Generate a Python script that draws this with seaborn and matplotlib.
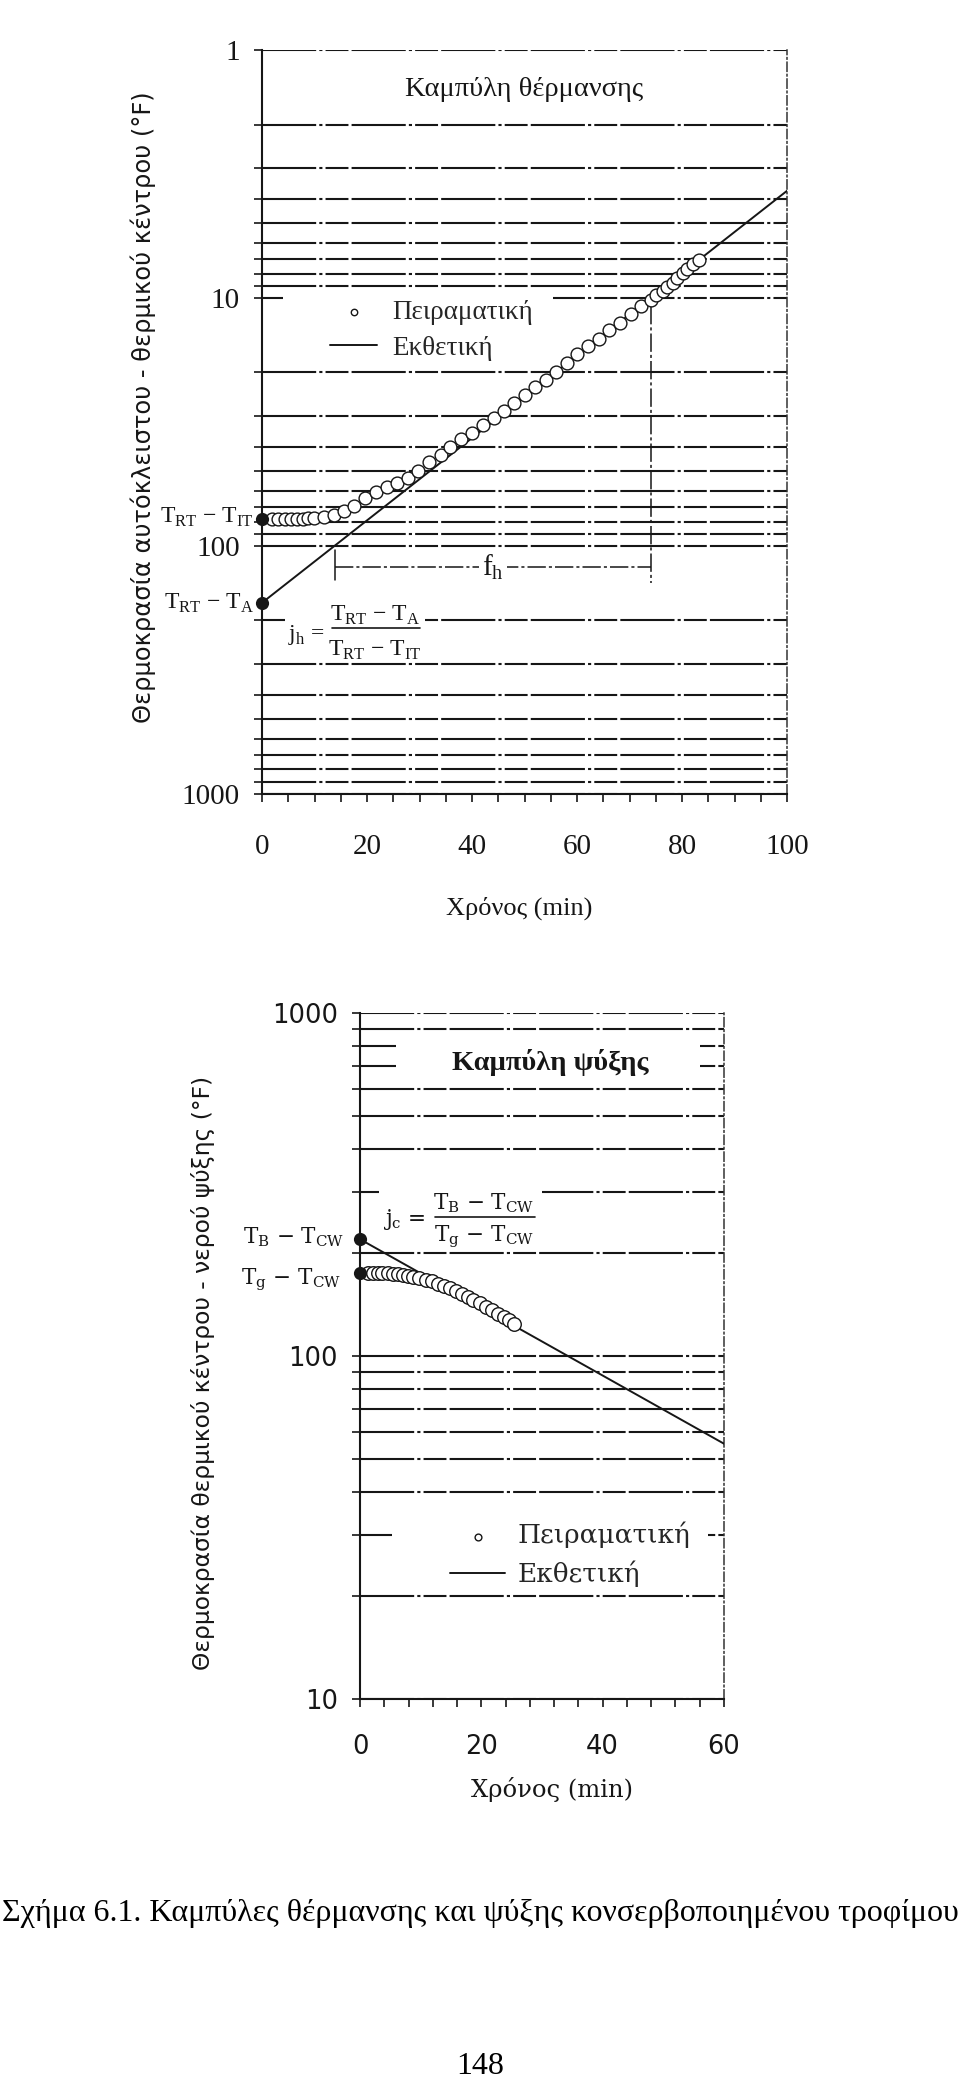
import numpy as np
import pandas as pd
import seaborn as sns
import matplotlib
matplotlib.use("Agg")
import matplotlib.pyplot as plt
from matplotlib.lines import Line2D
from matplotlib.patches import Rectangle
from matplotlib.ticker import FixedLocator, FixedFormatter, MultipleLocator, LogLocator, NullFormatter

# ---------------- data ----------------
heat_time = [1.9, 3.1, 4.4, 5.5, 6.6, 7.8, 8.8, 9.9, 11.8, 13.7, 15.7, 17.6, 19.6, 21.7,
             23.8, 25.7, 27.8, 29.8, 31.9, 34.0, 35.9, 37.9, 40.0, 42.0, 44.1, 46.1, 48.0,
             50.1, 52.0, 54.0, 56.0, 58.0, 60.0, 62.1, 64.1, 66.1, 68.1, 70.2, 72.1, 74.0,
             75.1, 76.3, 77.2, 78.2, 79.1, 80.1, 81.0, 82.0, 83.3]
heat_temp = [78, 78, 78, 78, 78, 77.8, 77.6, 77.3, 76.9, 75.2, 72.2, 69.0, 64.5, 61.0,
             58.2, 55.8, 53.3, 49.8, 45.9, 43.0, 40.0, 37.2, 35.0, 32.7, 30.5, 28.6, 26.6,
             24.6, 23.0, 21.5, 19.9, 18.4, 16.9, 15.7, 14.6, 13.5, 12.6, 11.6, 10.8, 10.2,
             9.75, 9.37, 9.02, 8.69, 8.35, 7.96, 7.67, 7.32, 7.03]
heat_line_time = [0, 100]
heat_line_temp = [170, 3.7]
heat_start_time = [0, 0]
heat_start_temp = [78, 170]          # T_RT - T_IT , T_RT - T_A

cool_time = [1.3, 2.1, 2.9, 3.7, 4.6, 5.4, 6.2, 7.1, 7.9, 8.8, 9.8, 10.8, 11.8, 12.8,
             13.8, 14.8, 15.8, 16.8, 17.8, 18.7, 19.7, 20.7, 21.7, 22.7, 23.7, 24.6, 25.4]
cool_temp = [174, 174, 174, 174, 174, 173.5, 173, 172.5, 171.5, 170.5, 169, 167, 165,
             162.5, 160, 157.5, 154.5, 151.5, 148.5, 145.5, 142.5, 139, 136, 133, 130,
             127, 124]
cool_line_time = [0, 60]
cool_line_temp = [219, 55.5]
cool_start_time = [0, 0]
cool_start_temp = [174.5, 219]       # Tg - Tcw , TB - Tcw

heat_xticks = [0, 20, 40, 60, 80, 100]
cool_xticks = [0, 20, 40, 60]
heat_yticks = [1, 10, 100, 1000]
cool_yticks = [10, 100, 1000]
legend_labels = ["Πειραματική", "Εκθετική"]

heat_df = pd.DataFrame({"t": heat_time, "T": heat_temp})
cool_df = pd.DataFrame({"t": cool_time, "T": cool_temp})

# ---------------- style ----------------
sns.set_theme(style="white")
plt.rcParams["font.family"] = ["Liberation Serif", "DejaVu Serif"]
plt.rcParams["mathtext.fontset"] = "custom"
plt.rcParams["mathtext.rm"] = "Liberation Serif"

W, H = 960, 2082
fig = plt.figure(figsize=(W / 100, H / 100), dpi=100)
fig.patch.set_facecolor("white")
fx = lambda x: x / W
fy = lambda y: 1 - y / H

INK = "#161616"
GRID_LS = (0, (26, 1.5, 1.5, 1.5, 11, 1.5))

ax1 = fig.add_axes([fx(262), fy(793.5), fx(787) - fx(262), fy(50) - fy(793.5)])
ax2 = fig.add_axes([fx(360), fy(1699), fx(724) - fx(360), fy(1013) - fy(1699)])


def white_box(ax, x0, y0, x1, y1):
    ax.add_patch(Rectangle((fx(x0), fy(y1)), fx(x1) - fx(x0), fy(y0) - fy(y1),
                           transform=fig.transFigure, facecolor="white",
                           edgecolor="none", zorder=1))


def plot_panel(ax, df, lt, lv, st, sv, size):
    sns.lineplot(x=lt, y=lv, ax=ax, color=INK, linewidth=1.4, label=legend_labels[1],
                 zorder=3)
    sns.scatterplot(data=df, x="t", y="T", ax=ax, marker="o", s=size, color="white",
                    edgecolor=INK, linewidth=1.0, label=legend_labels[0], zorder=4)
    sns.scatterplot(x=st, y=sv, ax=ax, color=INK, s=90, edgecolor=INK, linewidth=0,
                    clip_on=False, zorder=6, legend=False)


def setup(ax, xmax, ylim, yticks, xticks, minor_x, tick_font, tick_size, xpad, ypad):
    ax.set_yscale("log")
    ax.set_xlim(0, xmax)
    ax.set_ylim(*ylim)
    ax.yaxis.set_major_locator(FixedLocator(yticks))
    ax.yaxis.set_major_formatter(FixedFormatter([str(v) for v in yticks]))
    ax.yaxis.set_minor_locator(LogLocator(base=10, subs=np.arange(2, 10), numticks=12))
    ax.yaxis.set_minor_formatter(NullFormatter())
    ax.xaxis.set_major_locator(FixedLocator(xticks))
    ax.xaxis.set_major_formatter(FixedFormatter([str(v) for v in xticks]))
    ax.xaxis.set_minor_locator(MultipleLocator(minor_x))
    ax.set_axisbelow(True)
    ax.grid(False)
    ax.grid(True, which="both", axis="y", color=INK, linewidth=1.5, linestyle=GRID_LS)
    ax.tick_params(axis="both", which="both", direction="out", color=INK, width=1.2,
                   labelcolor=INK)
    ax.tick_params(axis="x", which="both", bottom=True, length=6, pad=xpad,
                   labelsize=tick_size)
    ax.tick_params(axis="y", which="both", left=True, length=6, pad=ypad,
                   labelsize=tick_size)
    for lab in ax.get_xticklabels() + ax.get_yticklabels():
        lab.set_family(tick_font)
    ax.spines["top"].set_visible(False)
    for s in ("left", "bottom"):
        ax.spines[s].set_color(INK)
        ax.spines[s].set_linewidth(1.5)
    ax.spines["right"].set_color("#333333")
    ax.spines["right"].set_linewidth(1.1)
    ax.spines["right"].set_linestyle((0, (6, 2, 1, 2)))
    ax.set_facecolor("white")


# ================= heating curve =================
plot_panel(ax1, heat_df, heat_line_time, heat_line_temp, heat_start_time, heat_start_temp, 85)
setup(ax1, 100, (1000, 1), heat_yticks, heat_xticks, 5, "Liberation Serif", 21, 23, 10)

ax1.set_xlabel("Χρόνος (min)", fontsize=19, family="Liberation Serif", color=INK)
ax1.xaxis.set_label_coords(fx(519), fy(908), transform=fig.transFigure)
ax1.xaxis.label.set_verticalalignment("center")
ax1.set_ylabel("Θερμοκρασία αυτόκλειστου - θερμικού κέντρου (°F)", fontsize=17.4,
               family="DejaVu Sans", color=INK)
ax1.yaxis.set_label_coords(fx(143), fy(407), transform=fig.transFigure)
ax1.yaxis.label.set_verticalalignment("center")

ax1.text(fx(524), fy(90), "Καμπύλη θέρμανσης", transform=fig.transFigure, ha="center",
         va="center", fontsize=20.5, color=INK)

# legend (white area hides grid line)
white_box(ax1, 283, 291, 553, 366)
h, l = ax1.get_legend_handles_labels()
hd = dict(zip(l, h))
ax1.legend([hd[legend_labels[0]], hd[legend_labels[1]]], legend_labels, loc="upper left",
           bbox_to_anchor=(fx(330), fy(300)), bbox_transform=fig.transFigure,
           frameon=False, borderpad=0, borderaxespad=0, fontsize=19.5, handlelength=1.75,
           handletextpad=0.55, labelspacing=0.4, markerscale=0.5)

# f_h bracket derived from the exponential line
lg = np.log10(heat_line_temp)[::-1]
lt = np.array(heat_line_time)[::-1]
fh_start = float(np.interp(2.0, lg, lt))
fh_end = float(np.interp(1.0, lg, lt))
BR_LS = (0, (12, 2, 2, 2))
ax1.plot([fh_start, fh_end], [122, 122], color=INK, lw=1.1, ls=BR_LS, zorder=2)
ax1.plot([fh_start, fh_start], [104, 138], color=INK, lw=1.1, zorder=2)
ax1.plot([fh_end, fh_end], [10.8, 142], color=INK, lw=1.1, ls=BR_LS, zorder=2)
ax1.text((fh_start + fh_end) / 2, 122, r"f$_\mathregular{h}$", ha="center", va="center",
         fontsize=21, color=INK, zorder=3,
         bbox=dict(facecolor="white", edgecolor="none", pad=2))

# j_h formula
white_box(ax1, 285, 606, 425, 640)
fig.text(fx(254), fy(517), r"T$_\mathregular{RT}$ − T$_\mathregular{IT}$", ha="right",
         va="center", fontsize=17, color=INK)
fig.text(fx(254), fy(603), r"T$_\mathregular{RT}$ − T$_\mathregular{A}$", ha="right",
         va="center", fontsize=17, color=INK)
fig.text(fx(288), fy(635), r"j$_\mathregular{h}$ =", ha="left", va="center", fontsize=17,
         color=INK)
fig.text(fx(375), fy(615), r"T$_\mathregular{RT}$ − T$_\mathregular{A}$", ha="center",
         va="center", fontsize=17, color=INK)
fig.text(fx(375), fy(650), r"T$_\mathregular{RT}$ − T$_\mathregular{IT}$", ha="center",
         va="center", fontsize=17, color=INK)
fig.add_artist(Line2D([fx(332), fx(420)], [fy(628), fy(628)], color=INK, lw=1.2))

# ================= cooling curve =================
plot_panel(ax2, cool_df, cool_line_time, cool_line_temp, cool_start_time, cool_start_temp, 95)
setup(ax2, 60, (10, 1000), cool_yticks, cool_xticks, 4, "DejaVu Sans", 18.5, 19, 10)

ax2.set_xlabel("Χρόνος (min)", fontsize=17.5, family="DejaVu Serif", color=INK)
ax2.xaxis.set_label_coords(fx(552), fy(1790), transform=fig.transFigure)
ax2.xaxis.label.set_verticalalignment("center")
ax2.set_ylabel("Θερμοκρασία θερμικού κέντρου - νερού ψύξης (°F)", fontsize=16.8,
               family="DejaVu Sans", color=INK)
ax2.yaxis.set_label_coords(fx(203), fy(1373), transform=fig.transFigure)
ax2.yaxis.label.set_verticalalignment("center")

white_box(ax2, 396, 1036, 700, 1080)
ax2.text(fx(550), fy(1063), "Καμπύλη ψύξης", transform=fig.transFigure, ha="center",
         va="center", fontsize=20.5, fontweight="bold", color=INK, zorder=3)

white_box(ax2, 392, 1506, 708, 1590)
h, l = ax2.get_legend_handles_labels()
hd = dict(zip(l, h))
ax2.legend([hd[legend_labels[0]], hd[legend_labels[1]]], legend_labels, loc="upper left",
           bbox_to_anchor=(fx(450), fy(1522)), bbox_transform=fig.transFigure,
           frameon=False, borderpad=0, borderaxespad=0,
           prop=dict(family="DejaVu Serif", size=19), handlelength=2.1,
           handletextpad=0.45, labelspacing=0.45, markerscale=0.5)

white_box(ax2, 379, 1185, 542, 1250)
fig.text(fx(344), fy(1237), r"T$_\mathregular{B}$ − T$_\mathregular{CW}$", ha="right",
         va="center", fontsize=15.5, family="DejaVu Serif", color=INK)
fig.text(fx(341), fy(1280), r"T$_\mathregular{g}$ − T$_\mathregular{CW}$", ha="right",
         va="center", fontsize=15.5, family="DejaVu Serif", color=INK)
fig.text(fx(383), fy(1220), r"j$_\mathregular{c}$ =", ha="left", va="center", fontsize=15.5,
         family="DejaVu Serif", color=INK)
fig.text(fx(484), fy(1203), r"T$_\mathregular{B}$ − T$_\mathregular{CW}$", ha="center",
         va="center", fontsize=15.5, family="DejaVu Serif", color=INK)
fig.text(fx(484), fy(1237), r"T$_\mathregular{g}$ − T$_\mathregular{CW}$", ha="center",
         va="center", fontsize=15.5, family="DejaVu Serif", color=INK)
fig.add_artist(Line2D([fx(435), fx(535)], [fy(1217), fy(1217)], color=INK, lw=1.2))

# ================= caption =================
fig.text(0.5, fy(1914), "Σχήμα 6.1. Καμπύλες θέρμανσης και ψύξης κονσερβοποιημένου τροφίμου",
         ha="center", va="center", fontsize=23, family="Liberation Serif", color="black")
fig.text(0.5, fy(2066), "148", ha="center", va="center", fontsize=23,
         family="Liberation Serif", color="black")

fig.savefig("out.png", dpi=100, facecolor="white")
